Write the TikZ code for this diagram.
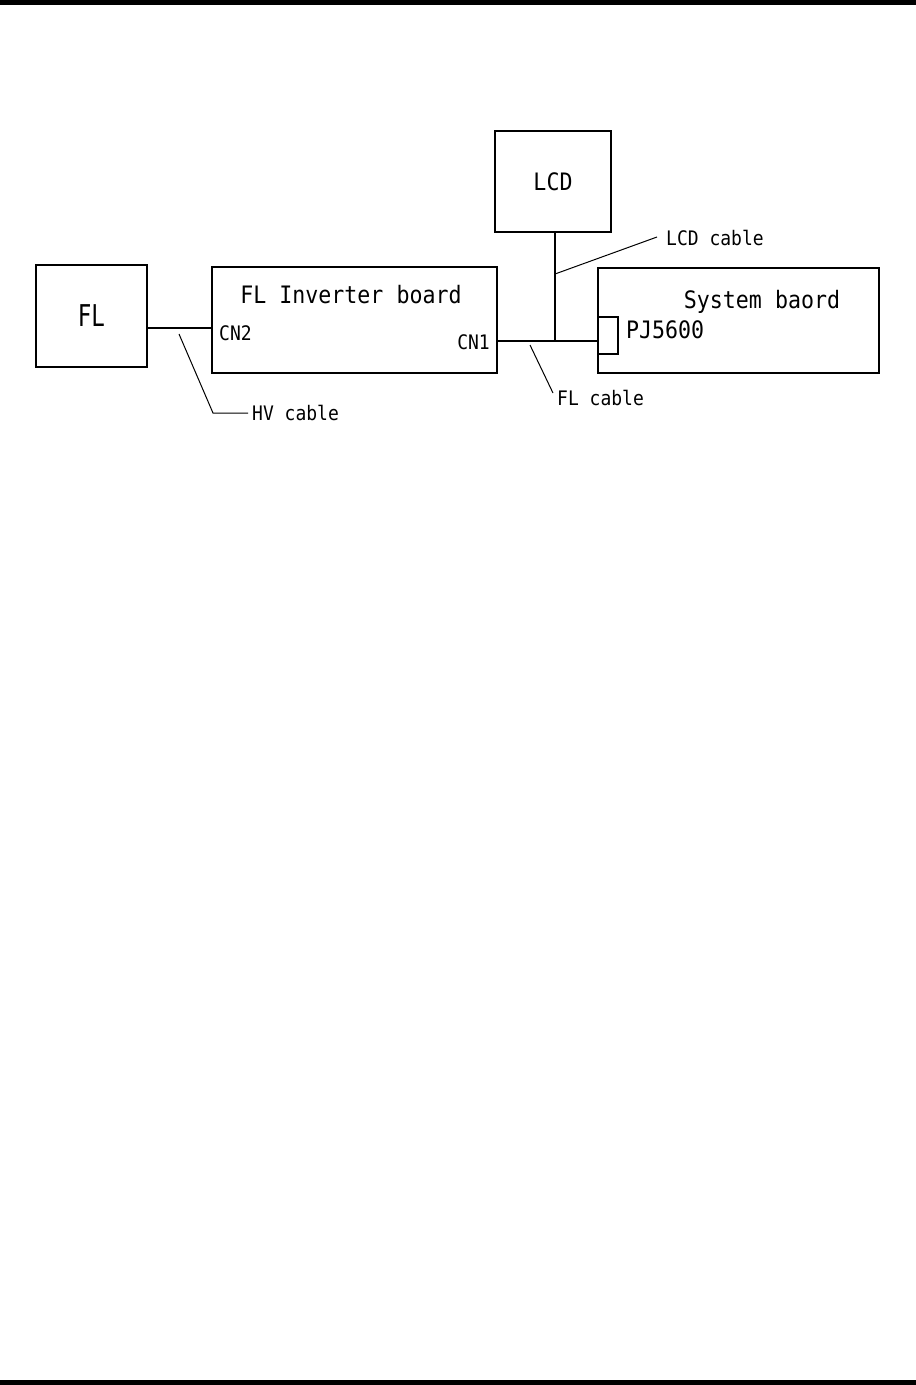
\documentclass[tikz,border=0pt]{standalone}
\usepackage{fontspec}
\usepackage{tikz}
\usetikzlibrary{positioning,calc}
\newfontfamily\gothic[FakeStretch=0.9]{DejaVu Sans Mono}
\newfontfamily\gothicnarrow[FakeStretch=0.75]{DejaVu Sans Mono}

\begin{document}
\begin{tikzpicture}[
    x=1pt, y=-1pt,
    box/.style={draw, line width=2pt, inner sep=0pt},
    bigtext/.style={font=\gothic\fontsize{24}{24}\selectfont, inner sep=0pt},
    smalltext/.style={font=\gothic\fontsize{20}{20}\selectfont, inner sep=0pt},
    cable/.style={line width=2pt},
    leader/.style={line width=1pt}
  ]
    \useasboundingbox (0,0) rectangle (916,1385);
    % page rules
    \fill (0,0) rectangle (916,5);
    \fill (0,1380) rectangle (916,1385);

    % boxes
    \node[box, minimum width=111pt, minimum height=102pt, font=\gothicnarrow\fontsize{30}{30}\selectfont] (fl) at (91.5,316) {FL};
    \node[box, minimum width=285pt, minimum height=106pt] (inv) at (354.5,320) {};
    \node[box, minimum width=116pt, minimum height=101pt, bigtext] (lcd) at (553,181.5) {LCD};
    \node[box, minimum width=281pt, minimum height=105pt] (sys) at (738.5,320.5) {};
    \node[box, minimum width=20pt, minimum height=37pt] (pj) at (608,335.5) {};

    % box texts
    \node[bigtext] (invtext) at (351,295) {FL Inverter board};
    \node[bigtext] (systext) at (762,302) {System baord};
    \node[bigtext, anchor=west] (pjtext) at (626,330) {PJ5600};
    \node[smalltext, anchor=west] (cn2) at (219,333) {CN2};
    \node[smalltext, anchor=east] (cn1) at (490,342) {CN1};

    % cables
    \coordinate (hv) at (147,328);
    \coordinate (j) at (555,341);
    \draw[cable] (fl.east |- hv) -- (inv.west |- hv);
    \draw[cable] (inv.east |- j) -- (pj.west |- j);
    \draw[cable] (lcd.south -| j) -- (j);

    % cable labels
    \node[smalltext, anchor=west] (hvlabel) at (252,413) {HV cable};
    \node[smalltext, anchor=west] (lcdlabel) at (666,238) {LCD cable};
    \node[smalltext, anchor=west] (fllabel) at (557,398) {FL cable};

    \coordinate (hvtip) at (179,334);
    \coordinate (hvbend) at (213,413);
    \coordinate (lcdtip) at (555,274);
    \coordinate (fltip) at (530,345);
    \draw[leader] (hvtip) -- (hvbend) -- ($(hvlabel.west)+(-4,0)$);
    \draw[leader] (lcdtip) -- ($(lcdlabel.west)+(-9,-1)$);
    \draw[leader] (fltip) -- ($(fllabel.west)+(-4,-5)$);
  \end{tikzpicture}
\end{document}
